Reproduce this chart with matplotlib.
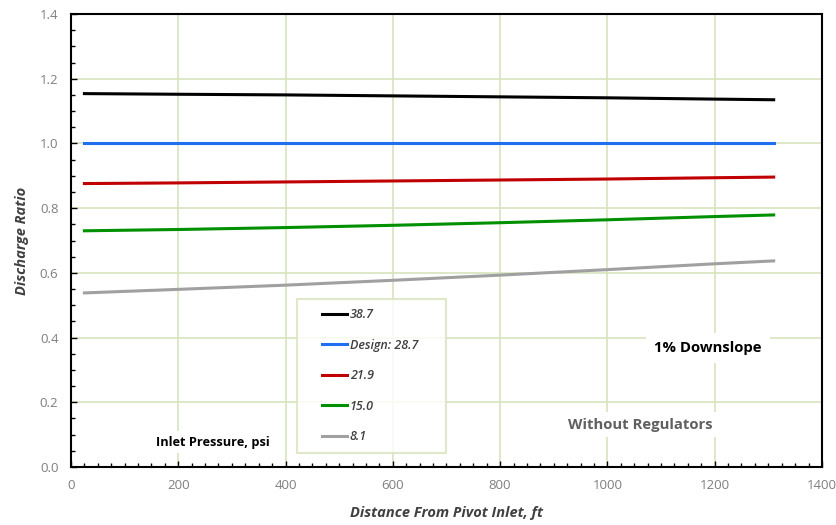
import matplotlib
matplotlib.use("Agg")
import numpy as np
import matplotlib.pyplot as plt
from matplotlib.ticker import MultipleLocator, FormatStrFormatter
from matplotlib.legend_handler import HandlerLine2D

plt.rcParams['font.family'] = ['Open Sans', 'DejaVu Sans']

distance = [25, 200, 400, 600, 800, 1000, 1200, 1310]
p38_7 = [1.154, 1.152, 1.150, 1.147, 1.144, 1.141, 1.137, 1.135]
p28_7 = [1.000, 1.000, 1.000, 1.000, 1.000, 1.000, 1.000, 1.000]
p21_9 = [0.876, 0.878, 0.881, 0.884, 0.887, 0.890, 0.894, 0.896]
p15_0 = [0.730, 0.734, 0.740, 0.747, 0.755, 0.764, 0.774, 0.779]
p8_1 = [0.538, 0.549, 0.562, 0.577, 0.593, 0.610, 0.628, 0.637]

series = [
    ("38.7", p38_7, "#000000"),
    ("Design: 28.7", p28_7, "#1f6ff0"),
    ("21.9", p21_9, "#c00000"),
    ("15.0", p15_0, "#009000"),
    ("8.1", p8_1, "#a0a0a0"),
]


class RightLineHandler(HandlerLine2D):
    def __init__(self, line_len, **kw):
        super().__init__(**kw)
        self.line_len = line_len

    def create_artists(self, legend, orig_handle, xdescent, ydescent, width,
                       height, fontsize, trans):
        arts = super().create_artists(legend, orig_handle, xdescent, ydescent,
                                      width, height, fontsize, trans)
        x1 = width - xdescent
        for a in arts:
            yd = np.asarray(a.get_ydata(), dtype=float)
            n = len(yd)
            if n >= 2:
                a.set_data(np.linspace(x1 - self.line_len, x1, n), yd)
        return arts


fig = plt.figure(figsize=(8.36, 5.25), dpi=100)
ax = fig.add_axes([0.0849, 0.1105, 0.8983, 0.8628])

grid_c = "#d7e4bd"
handles = []
for name, vals, col in series:
    ln, = ax.plot(distance, vals, color=col, lw=2.2, label=name, zorder=3)
    handles.append(ln)

ax.set_xlim(0, 1400)
ax.set_ylim(0, 1.4)
ax.xaxis.set_major_locator(MultipleLocator(200))
ax.xaxis.set_minor_locator(MultipleLocator(25))
ax.yaxis.set_major_locator(MultipleLocator(0.2))
ax.yaxis.set_minor_locator(MultipleLocator(0.05))
ax.yaxis.set_major_formatter(FormatStrFormatter('%.1f'))
ax.grid(True, which='major', color=grid_c, lw=1.2, zorder=0)
ax.tick_params(which='both', direction='in', colors='black', labelcolor='#7f7f7f',
               labelsize=9.5, top=False, right=False)
ax.tick_params(which='major', length=4, width=1, pad=9)
ax.tick_params(which='minor', length=3, width=1)
for s in ax.spines.values():
    s.set_linewidth(1.5)
    s.set_color('black')

ax.set_xlabel("Distance From Pivot Inlet, ft", fontsize=10.5, fontweight='bold',
              fontstyle='italic', color='#404040', labelpad=10)
ax.set_ylabel("Discharge Ratio", fontsize=10.5, fontweight='bold',
              fontstyle='italic', color='#404040', labelpad=8)

hmap = {h: RightLineHandler(18.0) for h in handles}
leg = ax.legend(handles=handles, loc='upper left',
                bbox_to_anchor=(0.301, 0.371, 0.198, 0.0),
                mode='expand', frameon=True, fancybox=False, fontsize=9,
                handlelength=3.28, handletextpad=0.2, labelspacing=1.4,
                borderpad=0.75, borderaxespad=0, handler_map=hmap)
leg.get_frame().set_edgecolor(grid_c)
leg.get_frame().set_linewidth(1.5)
for t in leg.get_texts():
    t.set_fontstyle('italic')
    t.set_color('#404040')
    t.set_fontweight('semibold')
for h in leg.get_lines():
    h.set_linewidth(2.2)
leg.set_zorder(5)

ax.text(0.113, 0.055, "Inlet Pressure, psi", transform=ax.transAxes, fontsize=9.2,
        fontweight='bold', color='black', va='center', zorder=6,
        bbox=dict(facecolor='white', edgecolor='none', pad=3))
ax.text(0.848, 0.263, "1% Downslope", transform=ax.transAxes, fontsize=10.7,
        fontweight='bold', color='black', ha='center', va='center', zorder=6,
        bbox=dict(facecolor='white', edgecolor='none', pad=6))
ax.text(0.758, 0.093, "Without Regulators", transform=ax.transAxes, fontsize=10.7,
        fontweight='bold', color='#606060', ha='center', va='center', zorder=6,
        bbox=dict(facecolor='white', edgecolor='none', pad=4))

fig.savefig("out.png", dpi=100)
